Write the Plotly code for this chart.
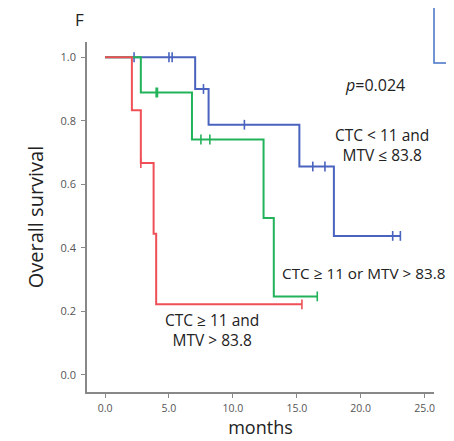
import plotly.graph_objects as go

# Kaplan-Meier step data (months, survival)
red_t = [0, 2.1, 2.8, 3.8, 4.0, 15.4]
red_s = [1.0, 0.833, 0.667, 0.444, 0.222, 0.222]
red_ct = [2.8, 15.4]
red_cs = [0.667, 0.222]

green_t = [0, 2.8, 6.8, 12.4, 13.2, 16.6]
green_s = [1.0, 0.889, 0.741, 0.494, 0.247, 0.247]
green_ct = [4.0, 4.1, 7.5, 8.2, 16.6]
green_cs = [0.889, 0.889, 0.741, 0.741, 0.247]

blue_t = [0, 7.05, 8.1, 15.2, 17.9, 23.1]
blue_s = [1.0, 0.9, 0.7875, 0.656, 0.4375, 0.4375]
blue_ct = [2.27, 5.0, 5.25, 7.7, 10.9, 16.25, 17.2, 22.5, 23.1]
blue_cs = [1.0, 1.0, 1.0, 0.9, 0.7875, 0.656, 0.656, 0.4375, 0.4375]

x_ticks = [0, 5, 10, 15, 20, 25]
x_tick_labels = ["0.0", "5.0", "10.0", "15.0", "20.0", "25.0"]
y_ticks = [0, 0.2, 0.4, 0.6, 0.8, 1.0]
y_tick_labels = ["0.0", "0.2", "0.4", "0.6", "0.8", "1.0"]

BLUE = "#4A63BF"
GREEN = "#22B35A"
RED = "#EF5057"

fig = go.Figure()
for t, s, ct, cs, col in [
    (blue_t, blue_s, blue_ct, blue_cs, BLUE),
    (green_t, green_s, green_ct, green_cs, GREEN),
    (red_t, red_s, red_ct, red_cs, RED),
]:
    fig.add_trace(go.Scatter(x=t, y=s, mode="lines", line=dict(color=col, width=2, shape="hv"),
                             showlegend=False, hoverinfo="skip"))
    fig.add_trace(go.Scatter(x=ct, y=cs, mode="markers",
                             marker=dict(symbol="line-ns", size=7, line=dict(color=col, width=1.6)),
                             showlegend=False, hoverinfo="skip"))

FONT = "Open Sans"
OFF = 8  # page body margin
W, H = 454 - OFF, 441 - OFF
L, T = 87 - OFF, 42 - OFF
R, B = 454 - 434, 441 - 392
pw, ph = W - L - R, H - T - B

ann = [
    dict(x=375, y=85, text="<i>p</i>=0.024", size=16),
    dict(x=382, y=145, text="CTC < 11 and<br>MTV ≤ 83.8", size=15.5),
    dict(x=364, y=273, text="CTC ≥ 11 or MTV > 83.8", size=15.3),
    dict(x=212, y=330, text="CTC ≥ 11 and<br>MTV > 83.8", size=15.5),
    dict(x=79, y=20, text="F", size=17),
]
for a in ann:
    fx = (a["x"] - OFF - L) / pw
    fy = (H - B - (a["y"] - OFF)) / ph
    fig.add_annotation(x=fx, y=fy, xref="paper", yref="paper",
                       text=a["text"], showarrow=False, xanchor="center", yanchor="middle",
                       font=dict(family=FONT, size=a["size"], color="#222222"))

# fragment of neighbouring panel box (top right)
fig.add_shape(type="rect", xref="paper", yref="paper",
              x0=1.0, x1=1.3, y0=(H - B - (63 - OFF)) / ph, y1=1.3,
              line=dict(color="#4472C4", width=1.5), fillcolor="rgba(0,0,0,0)")

fig.update_layout(
    width=W, height=H,
    margin=dict(l=L, r=R, t=T, b=B, autoexpand=False),
    paper_bgcolor="white", plot_bgcolor="white",
    font=dict(family=FONT),
    xaxis=dict(range=[-1.41, 25.73], tickvals=x_ticks, ticktext=x_tick_labels, automargin=False,
               showgrid=False, zeroline=False, showline=True, linecolor="#888888", linewidth=1.5,
               ticks="outside", ticklen=4, tickcolor="#888888", ticklabelstandoff=2,
               tickfont=dict(size=10.5, color="#555555"),
               title=dict(text="months", font=dict(size=18, color="#222222"), standoff=6)),
    yaxis=dict(range=[-0.054, 1.048], tickvals=y_ticks, ticktext=y_tick_labels, automargin=False,
               showgrid=False, zeroline=False, showline=True, linecolor="#888888", linewidth=1.5,
               ticks="outside", ticklen=4, tickcolor="#888888", ticklabelstandoff=3,
               tickfont=dict(size=11, color="#555555"),
               title=dict(text="Overall survival", font=dict(size=20, color="#222222"), standoff=12)),
)

fig.write_html("out.html")
